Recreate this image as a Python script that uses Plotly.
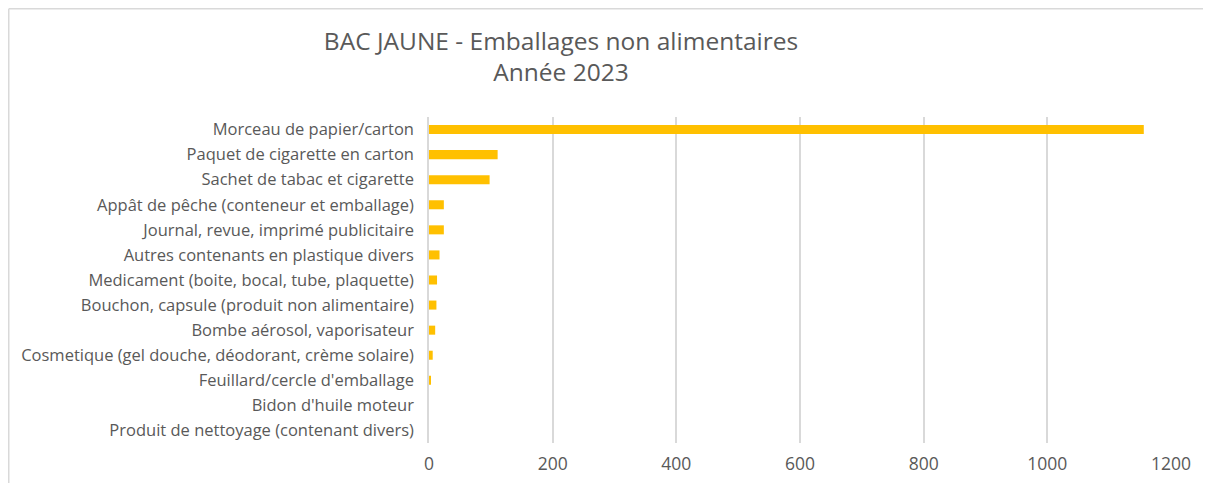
import plotly.graph_objects as go

categories = [
    "Morceau de papier/carton",
    "Paquet de cigarette en carton",
    "Sachet de tabac et cigarette",
    "Appât de pêche (conteneur et emballage)",
    "Journal, revue, imprimé publicitaire",
    "Autres contenants en plastique divers",
    "Medicament (boite, bocal, tube, plaquette)",
    "Bouchon, capsule (produit non alimentaire)",
    "Bombe aérosol, vaporisateur",
    "Cosmetique (gel douche, déodorant, crème solaire)",
    "Feuillard/cercle d'emballage",
    "Bidon d'huile moteur",
    "Produit de nettoyage (contenant divers)",
]
values = [1156, 111, 98, 24, 24, 17, 13, 12, 10, 6, 2, 0, 0]
x_ticks = [0, 200, 400, 600, 800, 1000, 1200]

# page body has an 8px margin: figure origin sits at screen (8, 8)
OFF = 8
W, H = 1211 - OFF, 483 - OFF
ML, MR, MT, MB = 429 - OFF, 40, 117 - OFF, 40
PW, PH = W - ML - MR, H - MT - MB


def px_x(sx):
    return (sx - OFF - ML) / PW


def px_y(sy):
    return 1 - (sy - OFF - MT) / PH


TEXT = "#595959"
GRID = "#D9D9D9"
FONT = "Open Sans, Noto Sans, sans-serif"

fig = go.Figure(
    go.Bar(
        x=values,
        y=categories,
        orientation="h",
        marker=dict(color="#FFC000", line=dict(width=0)),
        width=0.36,
    )
)

fig.update_layout(
    width=W,
    height=H,
    margin=dict(l=ML, r=MR, t=MT, b=MB, autoexpand=False),
    paper_bgcolor="white",
    plot_bgcolor="white",
    showlegend=False,
    font=dict(family=FONT, color=TEXT, size=14),
    title=dict(
        text="BAC JAUNE - Emballages non alimentaires<br>Année 2023",
        x=(561 - OFF) / W,
        xref="container",
        xanchor="center",
        y=1 - 41.5 / H,
        yref="container",
        yanchor="top",
        font=dict(family=FONT, size=24.5, color=TEXT),
    ),
    xaxis=dict(
        range=[0, 1200],
        tickvals=x_ticks,
        ticktext=[str(v) for v in x_ticks],
        showgrid=True,
        gridcolor=GRID,
        gridwidth=1.5,
        zeroline=False,
        showline=False,
        ticks="",
        ticklabelstandoff=8,
        tickfont=dict(size=17.5, color=TEXT),
        fixedrange=True,
    ),
    yaxis=dict(
        categoryorder="array",
        categoryarray=categories[::-1],
        showline=True,
        linecolor=GRID,
        linewidth=1.5,
        showgrid=False,
        zeroline=False,
        ticks="",
        ticklabelstandoff=10,
        tickfont=dict(size=16.5, color=TEXT),
        fixedrange=True,
    ),
    shapes=[
        dict(type="line", xref="paper", yref="paper",
             x0=px_x(OFF + 0.75), x1=px_x(1211 + 5), y0=px_y(OFF + 0.75), y1=px_y(OFF + 0.75),
             line=dict(color=GRID, width=1.5)),
        dict(type="line", xref="paper", yref="paper",
             x0=px_x(OFF + 0.75), x1=px_x(OFF + 0.75), y0=px_y(OFF + 0.75), y1=px_y(483 + 5),
             line=dict(color=GRID, width=1.5)),
    ],
)

fig.write_html("out.html")
